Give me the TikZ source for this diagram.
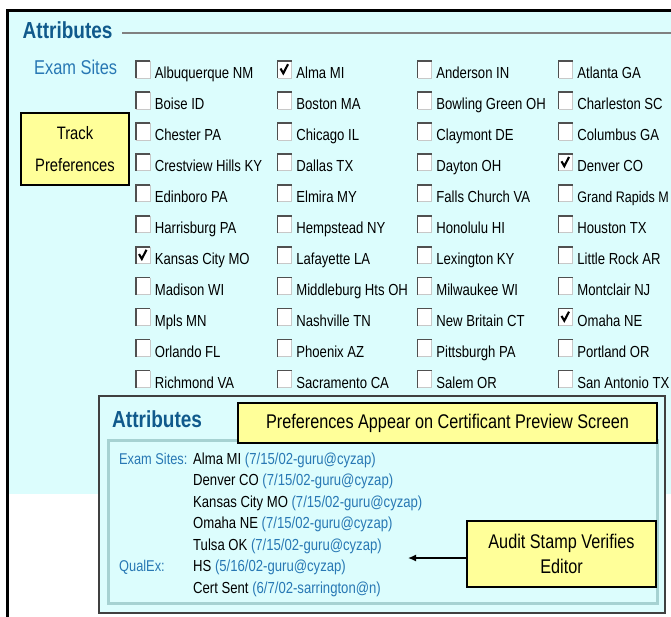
\documentclass[tikz,border=0pt]{standalone}
\usepackage{fontspec}
\setmainfont[FakeStretch=0.82]{Liberation Sans}
\usetikzlibrary{arrows.meta}
\definecolor{bgcyan}{HTML}{DCFDFD}
\definecolor{headblue}{HTML}{105A8C}
\definecolor{labblue}{HTML}{2878B4}
\definecolor{noteyellow}{HTML}{FFFF99}
\definecolor{panelteal}{HTML}{A6D2D2}
\definecolor{cbdark}{HTML}{505050}
\definecolor{cblight}{HTML}{C8C8C8}
\definecolor{cardgray}{HTML}{404040}
\definecolor{rulegray}{HTML}{808080}

\newcommand{\cbx}[4]{%
  \fill[white] (#1,#2-17.5) rectangle (#1+14,#2-0.5);
  \draw[cblight, line width=1pt] (#1+14,#2-17.5) -- (#1+14,#2-0.5) -- (#1,#2-0.5);
  \draw[cbdark, line width=1.5pt] (#1,#2-0.5) -- (#1,#2-17.5) -- (#1+14,#2-17.5);
  \node[lbl] (#4) at (#1+18.7,#2) {#3};%
}
\newcommand{\cbcol}[3]{%
  \foreach \t [count=\r] in {#3} {%
    \pgfmathsetmacro\by{78.7+30.93*(\r-1)}%
    \cbx{#1}{\by}{\t}{#2\r}%
  }%
}
\newcommand{\chk}[2]{%
  \draw[line width=2.1pt, line join=miter] (#1+3,#2-10.2) -- (#1+5.8,#2-5.4) -- (#1+10.5,#2-14.5);%
}
\newcommand{\smallgr}{\fontsize{15.3}{19}\selectfont}

\begin{document}
\begin{tikzpicture}[x=1pt,y=-1pt,
  lbl/.style={anchor=base west, inner sep=0pt, font=\fontsize{16}{19}\selectfont},
  head/.style={anchor=base west, inner sep=0pt, text=headblue, font=\fontsize{23.2}{26}\selectfont\bfseries},
  sub/.style={anchor=base west, inner sep=0pt, text=labblue, font=\fontsize{20}{24}\selectfont},
  inl/.style={anchor=base west, inner sep=0pt, font=\fontsize{16}{19}\selectfont},
  inlab/.style={anchor=base west, inner sep=0pt, text=labblue, font=\fontsize{15.6}{19}\selectfont},
  note/.style={draw=black, line width=1.3pt, fill=noteyellow, align=center, inner sep=0pt}
]
\useasboundingbox (0,0) rectangle (671,616);
\clip (0,0) rectangle (671,616);

% background and outer frame
\fill[white] (0,0) rectangle (671,616);
\fill[bgcyan] (8.6,12) rectangle (671,494);
\draw[line width=2.6pt] (7.3,630) -- (7.3,10.7) -- (690,10.7);

% heading
\node[head] (title) at (22.5,38) {Attributes};
\draw[rulegray, line width=1.1pt] (122,33) -- (690,33);
\node[sub] (examsites) at (34,74) {Exam Sites};

% track preferences note
\node[note, minimum width=108, minimum height=72, font=\fontsize{18}{32}\selectfont] (track) at (75,149) {Track\\Preferences};

% checkbox grid
\cbcol{136}{a}{Albuquerque NM,Boise ID,Chester PA,Crestview Hills KY,Edinboro PA,Harrisburg PA,Kansas City MO,Madison WI,Mpls MN,Orlando FL,Richmond VA}
\cbcol{277.5}{b}{Alma MI,Boston MA,Chicago IL,Dallas TX,Elmira MY,Hempstead NY,Lafayette LA,Middleburg Hts OH,Nashville TN,Phoenix AZ,Sacramento CA}
\cbcol{417.5}{c}{Anderson IN,Bowling Green OH,Claymont DE,Dayton OH,Falls Church VA,Honolulu HI,Lexington KY,Milwaukee WI,New Britain CT,Pittsburgh PA,Salem OR}
\cbcol{558.5}{d}{Atlanta GA,Charleston SC,Columbus GA,Denver CO,\smallgr Grand Rapids M,Houston TX,Little Rock AR,Montclair NJ,Omaha NE,Portland OR,San Antonio TX}
\chk{277.5}{78.7}
\chk{558.5}{171.49}
\chk{136}{264.28}
\chk{558.5}{326.14}

% preview card
\draw[cardgray, line width=1.4pt, fill=bgcyan] (99,396) rectangle (665,613);
\draw[panelteal, line width=2.5pt] (108.5,440.5) rectangle (657.5,603.5);
\node[head] (title2) at (112,427) {Attributes};
\node[note, minimum width=419, minimum height=40, font=\fontsize{19.8}{24}\selectfont] (prefs) at (447.5,423) {Preferences Appear on Certificant Preview Screen};

\node[inlab] (lexam) at (119,464) {Exam Sites:};
\node[inl] (v1) at (193,464) {Alma MI \textcolor{labblue}{(7/15/02-guru@cyzap)}};
\node[inl] (v2) at (193,485.6) {Denver CO \textcolor{labblue}{(7/15/02-guru@cyzap)}};
\node[inl] (v3) at (193,507.2) {Kansas City MO \textcolor{labblue}{(7/15/02-guru@cyzap)}};
\node[inl] (v4) at (193,528.7) {Omaha NE \textcolor{labblue}{(7/15/02-guru@cyzap)}};
\node[inl] (v5) at (193,550.2) {Tulsa OK \textcolor{labblue}{(7/15/02-guru@cyzap)}};
\node[inlab] (lqual) at (119,571.8) {QualEx:};
\node[inl] (v6) at (193,571.8) {HS \textcolor{labblue}{(5/16/02-guru@cyzap)}};
\node[inl] (v7) at (193,593.4) {Cert Sent \textcolor{labblue}{(6/7/02-sarrington@n)}};

% audit note and arrow
\node[note, minimum width=189, minimum height=66, font=\fontsize{19.8}{25}\selectfont] (audit) at (561.5,554) {Audit Stamp Verifies\\Editor};
\coordinate (atip) at (408,558);
\draw[line width=1.3pt, -{Latex[length=8pt,width=7pt]}] (audit.west |- atip) -- (atip);
\end{tikzpicture}
\end{document}
